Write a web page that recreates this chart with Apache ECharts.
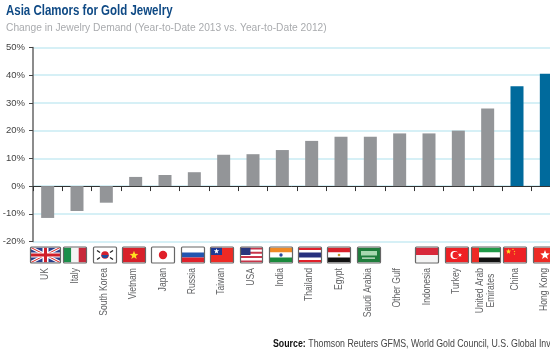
<!DOCTYPE html>
<html><head><meta charset="utf-8">
<style>html,body{margin:0;padding:0;background:#fff}#c{width:550px;height:357px}</style>
<script src="https://cdn.jsdelivr.net/npm/echarts@6/dist/echarts.min.js"></script>
</head><body><div id="c"></div>
<script>
const categories = ['UK','Italy','South Korea','Vietnam','Japan','Russia','Taiwan','USA','India','Thailand','Egypt','Saudi Arabia','Other Gulf','Indonesia','Turkey','United Arab\nEmirates','China','Hong Kong'];
const values = [-11.5,-9,-6,3.3,4,5,11.3,11.5,13,16.3,17.8,17.8,19,19,20,28,36,40.5];
const highlighted = ['China','Hong Kong'];
const yTicks = [-20,-10,0,10,20,30,40,50];
const titleText = 'Asia Clamors for Gold Jewelry';
const subtitleText = 'Change in Jewelry Demand (Year-to-Date 2013 vs. Year-to-Date 2012)';
const sourceLead = 'Source:';
const sourceText = 'Thomson Reuters GFMS, World Gold Council, U.S. Global Investors';
const FONT = '"Liberation Sans",sans-serif';

// flag artwork, in a 22x15 box
const R=(x,y,w,h,c)=>({k:'r',x,y,w,h,c});
const C=(x,y,r,c)=>({k:'c',x,y,r,c});
const P=(pts,c)=>({k:'p',pts,c});
const L=(x1,y1,x2,y2,c,w)=>({k:'l',x1,y1,x2,y2,c,w});
const star=(x,y,r,c)=>{const p=[];for(let i=0;i<10;i++){const a=-Math.PI/2+i*Math.PI/5,q=i%2?r*0.42:r;p.push([x+q*Math.cos(a),y+q*Math.sin(a)]);}return P(p,c);};
const flags = {
 'UK':{w:29,s:[R(0,0,29,15,'#2b3f8c'),L(0,0,29,15,'#fff',3),L(29,0,0,15,'#fff',3),L(0,0,29,15,'#d22',1),L(29,0,0,15,'#d22',1),R(11.5,0,6,15,'#fff'),R(0,5,29,5,'#fff'),R(13,0,3,15,'#d0202a'),R(0,6,29,3,'#d0202a')]},
 'Italy':{s:[R(0,0,7.3,15,'#1a8f4a'),R(7.3,0,7.4,15,'#f4f4f4'),R(14.7,0,7.3,15,'#c8283a')]},
 'South Korea':{s:[R(0,0,22,15,'#fff'),C(11,7.5,3.8,'#d3202e'),P([[7.2,7.5],[14.8,7.5],[13,10.5],[9,10.5]],'#1f4e9c'),L(3,3,6,5,'#222',1.4),L(16,5,19,3,'#222',1.4),L(3,12,6,10,'#222',1.4),L(16,10,19,12,'#222',1.4)]},
 'Vietnam':{s:[R(0,0,22,15,'#d8202a'),star(11,7.8,4.6,'#ffdf20')]},
 'Japan':{s:[R(0,0,22,15,'#fff'),C(11,7.5,4.2,'#e0202a')]},
 'Russia':{s:[R(0,0,22,5,'#fff'),R(0,5,22,5,'#2255b0'),R(0,10,22,5,'#e0202a')]},
 'Taiwan':{s:[R(0,0,22,15,'#ee2a24'),R(0,0,11,7.5,'#1d3a94'),star(5.5,3.7,2.8,'#fff')]},
 'USA':{w:21,s:[R(0,0,21,15,'#fff'),R(0,0,21,2,'#c8354a'),R(0,4.3,21,2,'#c8354a'),R(0,8.6,21,2,'#c8354a'),R(0,13,21,2,'#c8354a'),R(0,0,9.5,7.5,'#28367e')]},
 'India':{s:[R(0,0,22,5,'#f08a24'),R(0,5,22,5,'#fff'),R(0,10,22,5,'#1a8a3c'),C(11,7.5,1.7,'#2a4a9a')]},
 'Thailand':{s:[R(0,0,22,15,'#e0202a'),R(0,2.5,22,10,'#fff'),R(0,5,22,5,'#27307e')]},
 'Egypt':{s:[R(0,0,22,5,'#d8202a'),R(0,5,22,5,'#fff'),R(0,10,22,5,'#111'),C(11,7.5,1.3,'#c09a30')]},
 'Saudi Arabia':{s:[R(0,0,22,15,'#1f7d3c'),R(3,3.5,16,4.5,'#a8d8b0'),R(4,10,13,1.2,'#d8ecd8')]},
 'Indonesia':{s:[R(0,0,22,7.5,'#d8283a'),R(0,7.5,22,7.5,'#f4f4f4')]},
 'Turkey':{s:[R(0,0,22,15,'#ee2024'),C(8.5,7.5,4,'#fff'),C(9.7,7.5,3.2,'#ee2024'),star(14,7.5,2.2,'#fff')]},
 'United Arab\nEmirates':{w:28,s:[R(0,0,28,5,'#1f9a48'),R(0,5,28,5,'#fff'),R(0,10,28,5,'#111'),R(0,0,7,15,'#ee2a24')]},
 'China':{s:[R(0,0,22,15,'#ee2024'),star(4.5,4,2.8,'#ffdd20'),star(9,1.8,1,'#ffdd20'),star(10.5,4,1,'#ffdd20'),star(10.5,6.5,1,'#ffdd20')]},
 'Hong Kong':{s:[R(0,0,22,15,'#ee2a24'),star(11,7.5,5,'#fff')]}
};

const measure = document.createElement('canvas').getContext('2d');
measure.font = '11px '+FONT;
const LABEL_SQUEEZE = 0.78;
function labelLength(name){
  return Math.max(...name.split('\n').map(s=>measure.measureText(s).width))*LABEL_SQUEEZE;
}

function flagItem(params, api){
  const name = categories[params.dataIndex];
  const f = flags[name];
  const px = api.coord([params.dataIndex,0])[0];
  const bottom = api.coord([0,-20])[1];
  const kids = [];
  // the reference's narrow label type is imitated by squeezing the glyph run
  kids.push({type:'text',x:px-2.5,y:bottom+26.5+labelLength(name)/2,rotation:Math.PI/2,scaleX:LABEL_SQUEEZE,
    style:{text:name,align:'center',verticalAlign:'middle',lineHeight:11,font:'11px '+FONT,fill:'#636466'}});
  if(f){
    const w = f.w||22, h = 15;
    const x0 = Math.round(px - 1.8 - w/2), y0 = bottom + 6;
    const art = f.s.map(s=>{
      if(s.k==='r') return {type:'rect',shape:{x:s.x,y:s.y,width:s.w,height:s.h},style:{fill:s.c}};
      if(s.k==='c') return {type:'circle',shape:{cx:s.x,cy:s.y,r:s.r},style:{fill:s.c}};
      if(s.k==='p') return {type:'polygon',shape:{points:s.pts},style:{fill:s.c}};
      return {type:'line',shape:{x1:s.x1,y1:s.y1,x2:s.x2,y2:s.y2},style:{stroke:s.c,lineWidth:s.w}};
    });
    kids.push({type:'group',x:x0,y:y0,clipPath:{type:'rect',shape:{x:0,y:0,width:w,height:h}},children:art});
    kids.push({type:'rect',shape:{x:x0-0.5,y:y0-0.5,width:w+1,height:h+1,r:1},style:{fill:'none',stroke:'#666',lineWidth:1.2}});
  }
  return {type:'group',children:kids};
}

const chart = echarts.init(document.getElementById('c'),null,{renderer:'canvas'});
chart.setOption({
  animation:false,
  backgroundColor:'#fff',
  graphic:{elements:[
    {type:'text',x:6,y:4,scaleX:0.82,style:{text:titleText,font:'bold 14px '+FONT,fill:'#0f4a85'}},
    {type:'text',x:6,y:22,scaleX:0.89,style:{text:subtitleText,font:'11.5px '+FONT,fill:'#a9abae'}},
    {type:'text',x:273,y:338,scaleX:0.765,style:{text:'{b|'+sourceLead+'} {n|'+sourceText+'}',
      rich:{b:{font:'bold 11.5px '+FONT,fill:'#111'},n:{font:'11.5px '+FONT,fill:'#444'}}}}
  ]},
  grid:{left:33,top:47.5,width:528,height:194,containLabel:false,outerBoundsMode:'none'},
  xAxis:{type:'category',data:categories,axisLine:{onZero:true,lineStyle:{color:'#333',width:1}},
     axisTick:{show:true,length:5,alignWithLabel:false,interval:0,lineStyle:{color:'#333',width:1}},axisLabel:{show:false},splitLine:{show:false}},
  yAxis:{type:'value',min:yTicks[0],max:yTicks[yTicks.length-1],interval:10,
    axisLine:{show:true,onZero:false,lineStyle:{color:'#666',width:1.5}},
    axisTick:{show:true,length:4,lineStyle:{color:'#444',width:1}},
    axisLabel:{margin:8,fontFamily:FONT,fontSize:9.5,color:'#444',formatter:'{value}%'},
    splitLine:{show:true,lineStyle:{color:'#c9ebf3',width:1.5}}},
  series:[
    {type:'bar',data:values,barWidth:13,itemStyle:{color:p=>highlighted.includes(categories[p.dataIndex])?'#006a9c':'#939598'},silent:true},
    {type:'custom',data:categories.map((c,i)=>[i,0]),renderItem:flagItem,silent:true,clip:false,z:5}
  ]
});
</script></body></html>
